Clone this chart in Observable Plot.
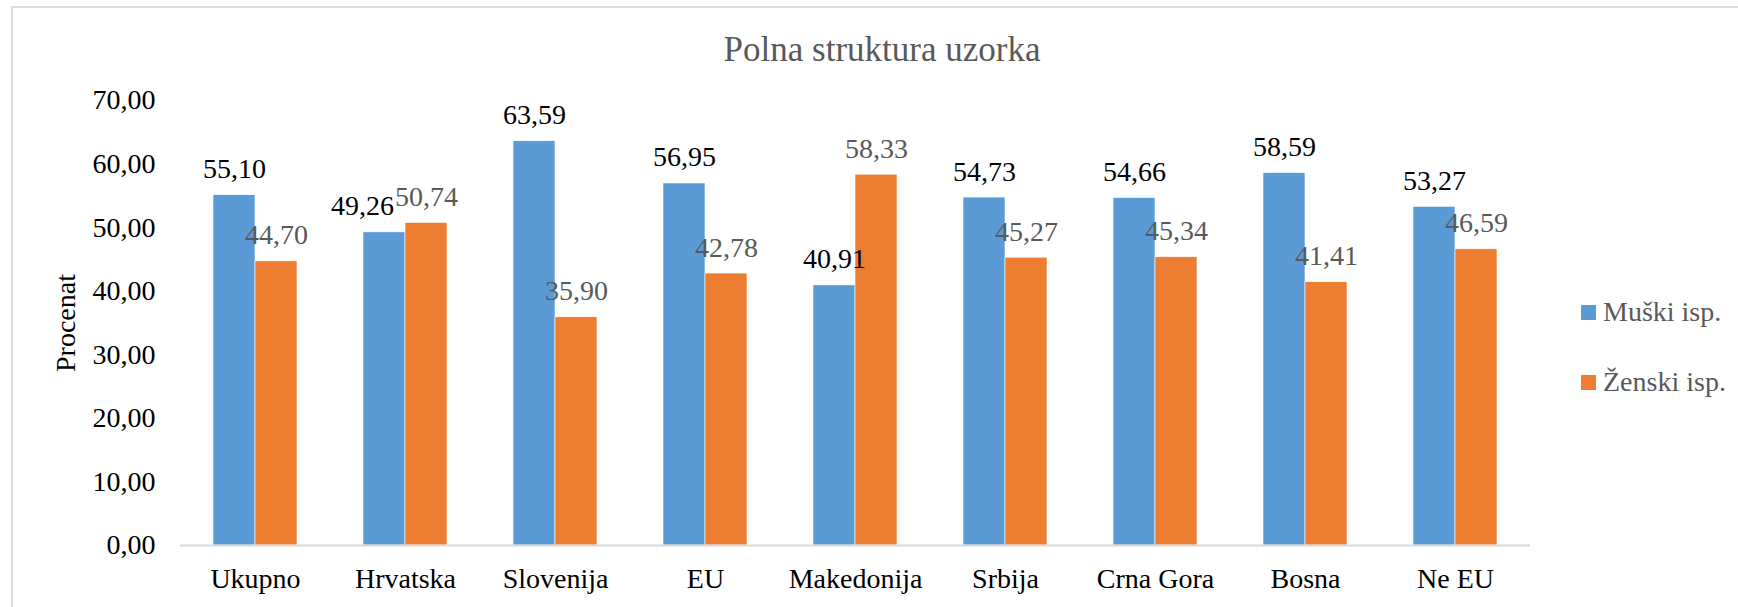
<!DOCTYPE html>
<html>
<head>
<meta charset="utf-8">
<script src="https://cdn.jsdelivr.net/npm/d3@7"></script>
<script src="https://cdn.jsdelivr.net/npm/@observablehq/plot@0.6"></script>
<style>
  html, body { margin: 0; padding: 0; background: #fff; overflow: hidden; }
  #wrap { position: relative; width: 1738px; height: 607px; overflow: hidden; font-family: "Liberation Serif", serif; }
  #frame { position: absolute; left: 11px; top: 6px; width: 1740px; height: 700px; border: 2px solid #dcdcdc; box-sizing: border-box; }
  #title { position: absolute; left: 0; width: 1764px; top: 28px; text-align: center; font-size: 35px; color: #595959; line-height: 44px; }
  #legend { position: absolute; left: 1581px; top: 292px; font-size: 28px; color: #595959; }
  .item { display: flex; align-items: center; height: 40px; margin-bottom: 30px; }
  .sw { width: 15px; height: 15px; margin-right: 7px; }
  #chart { position: absolute; left: 0; top: 0; }
  #chart svg, #chart svg text, #chart svg tspan { font-family: "Liberation Serif", serif !important; }
</style>
</head>
<body>
<div id="wrap">
  <div id="frame"></div>
  <div id="chart"></div>
  <div id="title"></div>
  <div id="legend"></div>
</div>
<script>
const title = "Polna struktura uzorka";
const yLabel = "Procenat";
const categories = ["Ukupno", "Hrvatska", "Slovenija", "EU", "Makedonija", "Srbija", "Crna Gora", "Bosna", "Ne EU"];
const seriesNames = ["Muški isp.", "Ženski isp."];
const muski = [55.10, 49.26, 63.59, 56.95, 40.91, 54.73, 54.66, 58.59, 53.27];
const zenski = [44.70, 50.74, 35.90, 42.78, 58.33, 45.27, 45.34, 41.41, 46.59];
const yTicks = [0, 10, 20, 30, 40, 50, 60, 70];
const colors = ["#5B9BD5", "#ED7D31"];
const labelColors = ["#000000", "#595959"];

const fmt = v => v.toFixed(2).replace(".", ",");
const serif = "Liberation Serif";

const data = categories.flatMap((c, i) => [
  {cat: c, series: seriesNames[0], value: muski[i]},
  {cat: c, series: seriesNames[1], value: zenski[i]}
]);

const muskiData = data.filter(d => d.series === seriesNames[0]);
const zenskiData = data.filter(d => d.series === seriesNames[1]);
const crowded = "Hrvatska";

const chart = Plot.plot({
  width: 1738,
  height: 607,
  marginLeft: 177,
  marginRight: 205,
  marginTop: 100,
  marginBottom: 62,
  style: {fontFamily: serif, fontSize: "28px", color: "#000", background: "transparent", overflow: "visible"},
  fx: {domain: categories, padding: 0, axis: "bottom", label: null, tickSize: 0, tickPadding: 23},
  x: {domain: seriesNames, axis: null, paddingInner: 0, paddingOuter: 0.75},
  y: {domain: [0, 70], ticks: yTicks, tickFormat: fmt, tickSize: 0, tickPadding: 25, label: yLabel, labelAnchor: "center", labelOffset: 125, labelArrow: false},
  color: {domain: seriesNames, range: colors},
  marks: [
    Plot.barY(data, {fx: "cat", x: "series", y: "value", fill: "series", stroke: "#ffffff", strokeWidth: 0.6}),
    Plot.ruleY([0], {stroke: "#d9d9d9", strokeWidth: 2}),
    Plot.text(muskiData.filter(d => d.cat !== crowded), {fx: "cat", x: "series", y: "value", text: d => fmt(d.value), dy: -26, fill: labelColors[0], fontSize: 28, fontFamily: serif}),
    Plot.text(muskiData.filter(d => d.cat === crowded), {fx: "cat", x: "series", y: "value", text: d => fmt(d.value), dy: -26, dx: -22, fill: labelColors[0], fontSize: 28, fontFamily: serif}),
    Plot.text(zenskiData, {fx: "cat", x: "series", y: "value", text: d => fmt(d.value), dy: -26, fill: labelColors[1], fontSize: 28, fontFamily: serif})
  ]
});
document.getElementById("chart").appendChild(chart);
document.getElementById("title").textContent = title;

const legend = document.getElementById("legend");
seriesNames.forEach((s, i) => {
  const item = document.createElement("div");
  item.className = "item";
  const sw = document.createElement("div");
  sw.className = "sw";
  sw.style.background = colors[i];
  const t = document.createElement("span");
  t.textContent = s;
  item.appendChild(sw);
  item.appendChild(t);
  legend.appendChild(item);
});
</script>
</body>
</html>
